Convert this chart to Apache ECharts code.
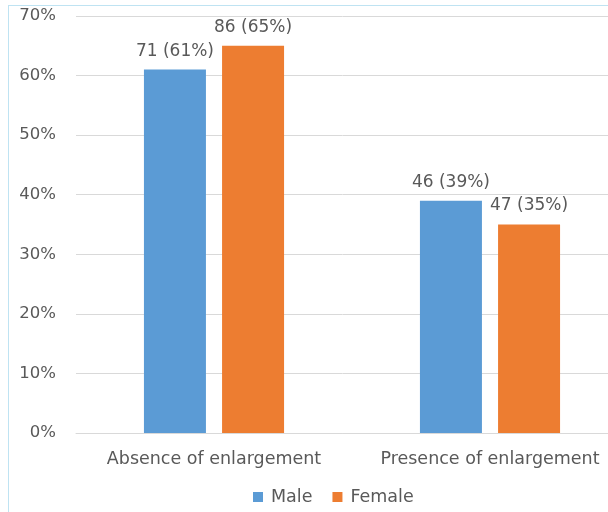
<!DOCTYPE html>
<html>
<head>
<meta charset="utf-8">
<script src="https://cdn.jsdelivr.net/npm/echarts@6/dist/echarts.min.js"></script>
<style>
  html, body { margin: 0; padding: 0; background: #fff; }
  #frame { position: absolute; left: 8px; top: 5px; width: 700px; height: 600px; border-left: 1px solid #bfe3f2; border-top: 1px solid #bfe3f2; }
  #chart { position: absolute; left: 0; top: 0; width: 608px; height: 512px; }
</style>
</head>
<body>
<div id="frame"></div>
<div id="chart"></div>
<script>
const categories = ['Absence of enlargement', 'Presence of enlargement']
const maleCounts = [71, 46]
const malePct = [61, 39]
const femaleCounts = [86, 47]
const femalePct = [65, 35]
const yTicks = [0, 10, 20, 30, 40, 50, 60, 70]

const textColor = '#595959'
const font = 'DejaVu Sans'

const labelFor = (counts) => ({
    show: true,
    position: 'top',
    distance: 10,
    color: textColor,
    fontSize: 17,
    fontFamily: font,
    formatter: (p) => counts[p.dataIndex] + ' (' + p.value + '%)'
})

const chart = echarts.init(document.getElementById('chart'))
chart.setOption({
    animation: false,
    textStyle: { fontFamily: font },
    grid: { left: 76, top: 16, width: 552, height: 417, containLabel: false, outerBoundsMode: 'none' },
    legend: {
        top: 488,
        left: 253,
        padding: 0,
        itemWidth: 10,
        itemHeight: 10,
        itemGap: 20,
        icon: 'rect',
        textStyle: { color: textColor, fontSize: 17.5, fontFamily: font, padding: [0, 0, 0, 3] },
        data: ['Male', 'Female']
    },
    xAxis: {
        type: 'category',
        data: categories,
        axisLine: { lineStyle: { color: '#d9d9d9' } },
        axisTick: { show: false },
        axisLabel: { interval: 0, hideOverlap: false, color: textColor, fontSize: 17.5, fontFamily: font, margin: 17 }
    },
    yAxis: {
        type: 'value',
        min: yTicks[0],
        max: yTicks[yTicks.length - 1],
        interval: 10,
        axisLine: { show: false },
        axisTick: { show: false },
        splitLine: { lineStyle: { color: '#d9d9d9' } },
        axisLabel: { color: textColor, fontSize: 16.5, fontFamily: font, margin: 20, formatter: '{value}%' }
    },
    series: [
        {
            name: 'Male',
            type: 'bar',
            data: malePct,
            barWidth: 62,
            barGap: '26%',
            itemStyle: { color: '#5b9bd5' },
            label: labelFor(maleCounts)
        },
        {
            name: 'Female',
            type: 'bar',
            data: femalePct,
            barWidth: 62,
            itemStyle: { color: '#ed7d31' },
            label: labelFor(femaleCounts)
        }
    ]
})
</script>
</body>
</html>
